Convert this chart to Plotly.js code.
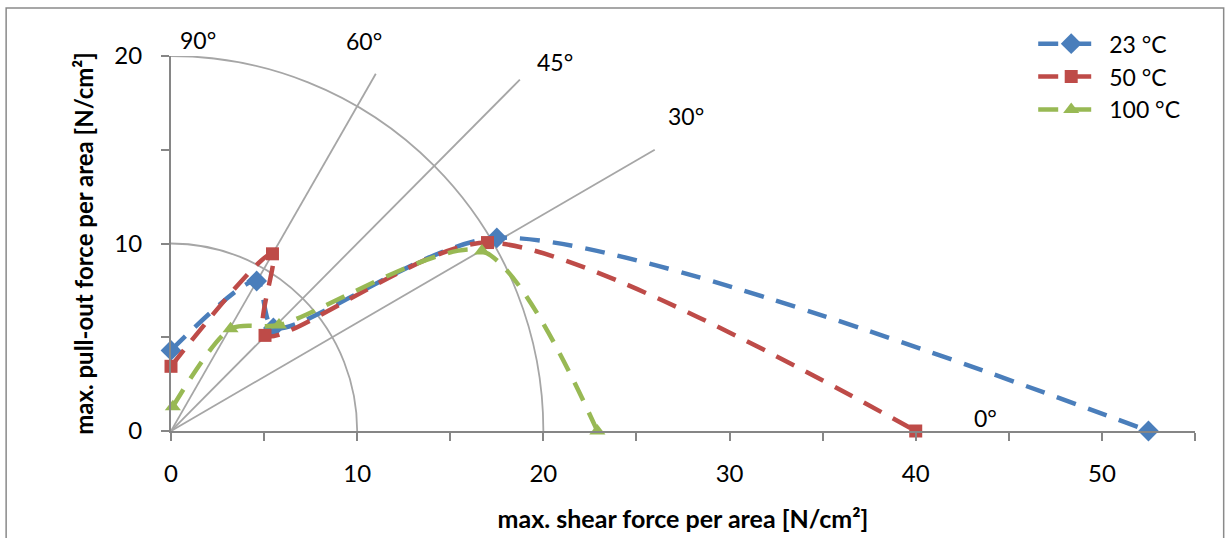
<!DOCTYPE html>
<html>
<head>
<meta charset="utf-8">
<script src="https://cdn.plot.ly/plotly-3.0.1.min.js"></script>
<style>html,body{margin:0;padding:0;background:#fff;}#chart{width:1226px;height:538px;}</style>
</head>
<body>
<div id="chart"></div>
<script>
// Series data (x = max. shear force, y = max. pull-out force), order: 90°, 60°, 45°, 30°, 0°
const seriesNames = ['23 °C', '50 °C', '100 °C'];
const shear23 = [0, 4.6, 5.5, 17.5, 52.5];
const pull23  = [4.3, 8.0, 5.5, 10.3, 0];
const shear50 = [0, 5.45, 5.05, 17.0, 40.0];
const pull50  = [3.45, 9.45, 5.1, 10.05, 0];
const shear100 = [0.1, 3.2, 5.8, 16.7, 22.9];
const pull100  = [1.3, 5.45, 5.65, 9.6, 0];

// Guide geometry
const guideRadii = [10, 20];
const guideAngles = [30, 45, 60];
const guideLengths = [30, 26.5, 22];
// angle labels (positions as fractions of the plot area)
const angleLabels = ['90°', '60°', '45°', '30°', '0°'];
const angleLabelPX = [0.026, 0.188, 0.375, 0.503, 0.795];
const angleLabelPY = [1.043, 1.04, 0.985, 0.84, 0.035];

// Axis ticks
const xTicks = [0, 10, 20, 30, 40, 50];
const yTicks = [0, 10, 20];

const colors = ['#4A7EBB', '#BE4B48', '#98B954'];
const symbols = ['diamond', 'square', 'triangle-up'];
const sizes = [16, 13, 14];
const xs = [shear23, shear50, shear100];
const ys = [pull23, pull50, pull100];

const font = 'Lato, Calibri, Carlito, sans-serif';

const traces = seriesNames.map((n, i) => ({
  type: 'scatter',
  mode: 'lines+markers',
  name: n,
  x: xs[i],
  y: ys[i],
  cliponaxis: false,
  line: {color: colors[i], width: 4.5, dash: '20px,13px', shape: 'spline', smoothing: 0.75},
  marker: {color: colors[i], symbol: symbols[i], size: sizes[i], line: {width: 0}}
}));

const shapes = [];
guideRadii.forEach(r => shapes.push({
  type: 'circle', xref: 'x', yref: 'y', x0: -r, x1: r, y0: -r, y1: r,
  line: {color: '#A6A6A6', width: 1.8}, layer: 'below'
}));
guideAngles.forEach((a, i) => {
  const t = a * Math.PI / 180;
  shapes.push({
    type: 'line', xref: 'x', yref: 'y', x0: 0, y0: 0,
    x1: guideLengths[i] * Math.cos(t), y1: guideLengths[i] * Math.sin(t),
    line: {color: '#A6A6A6', width: 1.8}, layer: 'below'
  });
});
// outer chart frame
shapes.push({
  type: 'rect', xref: 'paper', yref: 'paper',
  x0: -0.161, x1: 1.028, y0: -0.4, y1: 1.128,
  line: {color: '#8A8A8A', width: 1.5}, fillcolor: 'rgba(0,0,0,0)', layer: 'below'
});

const annotations = angleLabels.map((t, i) => ({
  x: angleLabelPX[i], y: angleLabelPY[i], xref: 'paper', yref: 'paper',
  xanchor: 'center', yanchor: 'middle',
  text: t, showarrow: false, font: {family: font, size: 23, color: '#000'}
}));

const layout = {
  width: 1226, height: 538,
  margin: {l: 171, r: 31, t: 56, b: 107},
  paper_bgcolor: '#fff', plot_bgcolor: '#fff',
  showlegend: true,
  legend: {
    x: 0.842, y: 1.09, xanchor: 'left', yanchor: 'top',
    font: {family: font, size: 23, color: '#000'},
    bgcolor: 'rgba(0,0,0,0)', tracegroupgap: 0, itemwidth: 66
  },
  xaxis: {
    range: [0, 55], tickvals: xTicks, ticktext: xTicks.map(String),
    showgrid: false, zeroline: false,
    showline: true, linecolor: '#868686', linewidth: 2,
    ticks: 'outside', ticklen: 8, tickcolor: '#868686', tickwidth: 2,
    minor: {dtick: 5, ticks: 'outside', ticklen: 8, tickcolor: '#868686', tickwidth: 2, showgrid: false},
    ticklabelstandoff: 12,
    tickfont: {family: font, size: 24, color: '#000'},
    title: {text: 'max. shear force per area [N/cm²]', font: {family: font, size: 25, color: '#000', weight: 'bold'}, standoff: 25},
    fixedrange: true
  },
  yaxis: {
    range: [0, 20], tickvals: yTicks, ticktext: yTicks.map(String),
    showgrid: false, zeroline: false,
    showline: true, linecolor: '#868686', linewidth: 2,
    ticks: 'outside', ticklen: 8, tickcolor: '#868686', tickwidth: 2,
    minor: {dtick: 5, ticks: 'outside', ticklen: 8, tickcolor: '#868686', tickwidth: 2, showgrid: false},
    ticklabelstandoff: 14,
    tickfont: {family: font, size: 24, color: '#000'},
    title: {text: 'max. pull-out force per area [N/cm²]', font: {family: font, size: 24, color: '#000', weight: 'bold'}, standoff: 14},
    fixedrange: true
  },
  shapes: shapes,
  annotations: annotations
};

Plotly.newPlot('chart', traces, layout, {displayModeBar: false, staticPlot: true});
</script>
</body>
</html>
